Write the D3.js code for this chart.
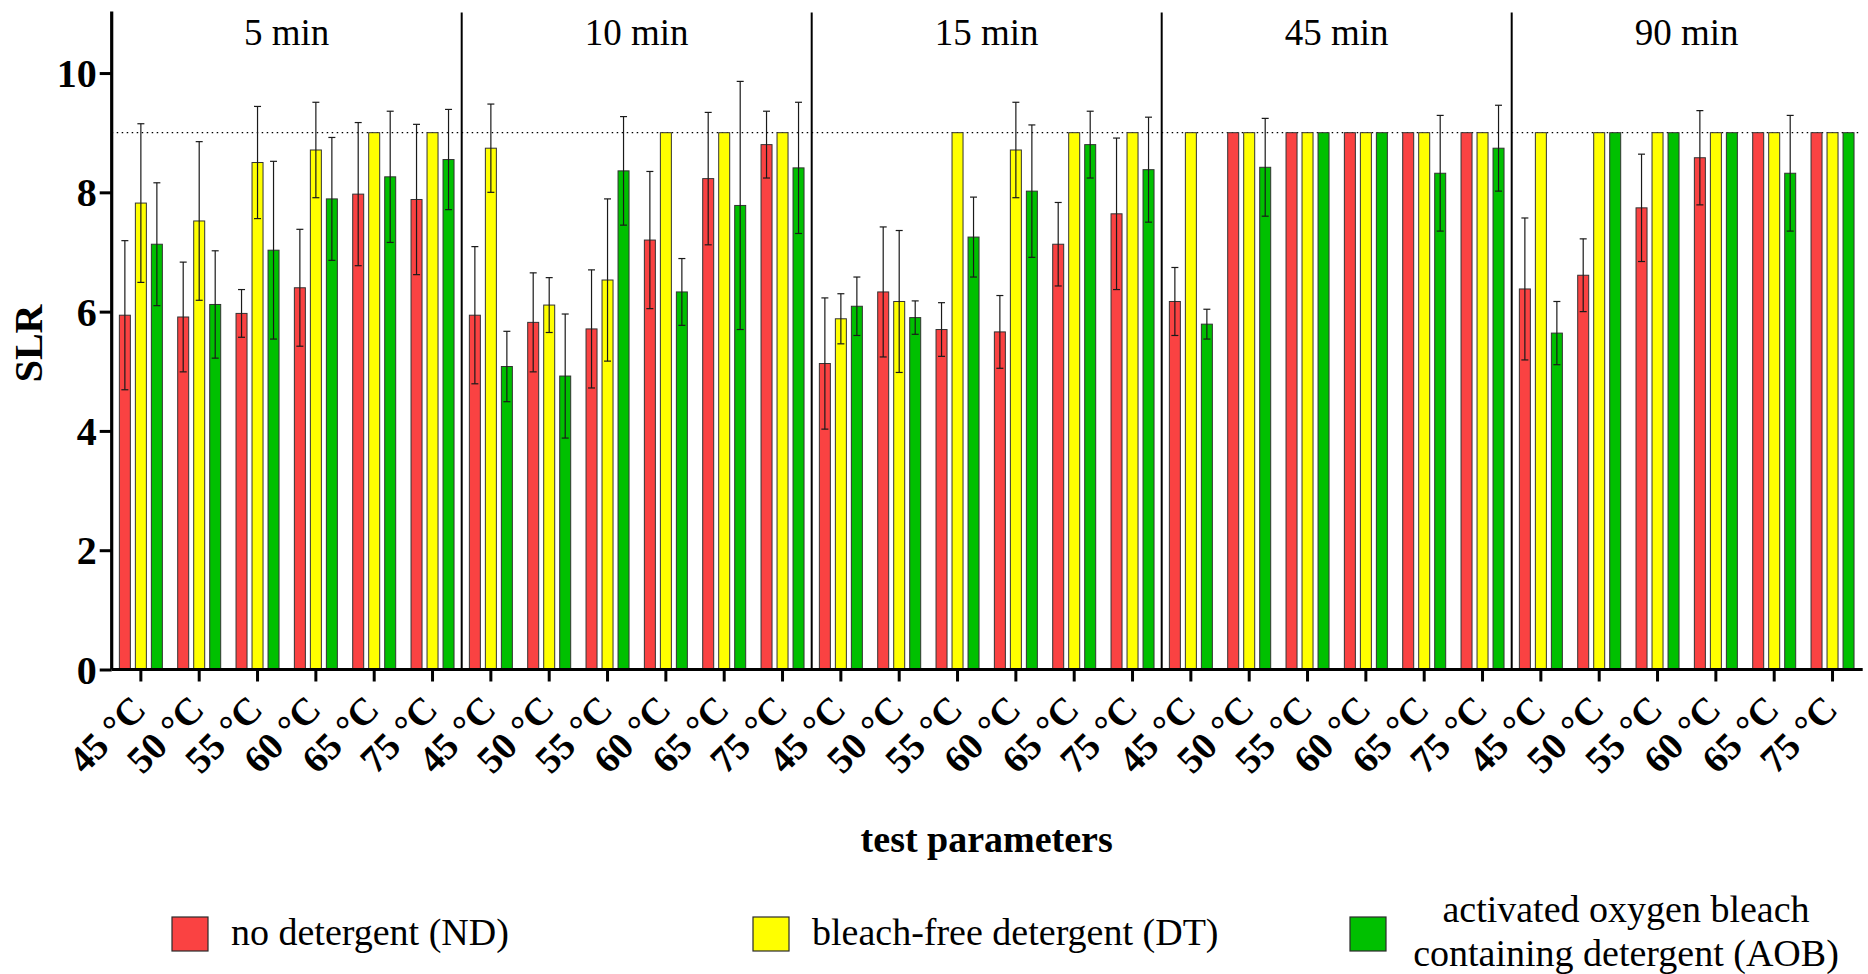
<!DOCTYPE html>
<html>
<head>
<meta charset="utf-8">
<script src="https://cdn.jsdelivr.net/npm/d3@7/dist/d3.min.js"></script>
<style>
  html, body { margin: 0; padding: 0; background: #fff; }
  svg { display: block; }
  text { font-family: "Liberation Serif", "Times New Roman", serif; fill: #000; }
</style>
</head>
<body>
<svg id="chart" width="1868" height="974"></svg>
<script>
// ---------------- DATA ----------------
const groups = ["5 min", "10 min", "15 min", "45 min", "90 min"];
const temps = ["45 °C", "50 °C", "55 °C", "60 °C", "65 °C", "75 °C"];
const seriesNames = ["no detergent (ND)", "bleach-free detergent (DT)", "activated oxygen bleach containing detergent (AOB)"];
const seriesColors = ["#FA4242", "#FFFF00", "#00C000"];
const yTicks = [0, 2, 4, 6, 8, 10];
const limitLine = 9;

// values ordered: group by group, 6 temperatures each
const ndValues = [
  5.94, 5.91, 5.97, 6.40, 7.97, 7.88,
  5.94, 5.82, 5.71, 7.20, 8.23, 8.80,
  5.13, 6.33, 5.70, 5.66, 7.13, 7.64,
  6.17, 9, 9, 9, 9, 9,
  6.38, 6.61, 7.74, 8.58, 9, 9
];
const ndErrors = [
  1.25, 0.92, 0.40, 0.98, 1.20, 1.26,
  1.15, 0.83, 0.99, 1.15, 1.11, 0.56,
  1.10, 1.09, 0.45, 0.61, 0.70, 1.27,
  0.57, 0, 0, 0, 0, 0,
  1.19, 0.61, 0.90, 0.79, 0, 0
];
const dtValues = [
  7.82, 7.52, 8.50, 8.71, 9, 9,
  8.74, 6.11, 6.53, 9, 9, 9,
  5.88, 6.17, 9, 8.71, 9, 9,
  9, 9, 9, 9, 9, 9,
  9, 9, 9, 9, 9, 9
];
const dtErrors = [
  1.33, 1.33, 0.94, 0.80, 0, 0,
  0.74, 0.46, 1.36, 0, 0, 0,
  0.42, 1.19, 0, 0.80, 0, 0,
  0, 0, 0, 0, 0, 0,
  0, 0, 0, 0, 0, 0
];
const aobValues = [
  7.13, 6.12, 7.03, 7.89, 8.26, 8.55,
  5.08, 4.92, 8.36, 6.33, 7.78, 8.41,
  6.09, 5.90, 7.25, 8.02, 8.80, 8.38,
  5.79, 8.42, 9, 9, 8.32, 8.74,
  5.64, 9, 9, 9, 8.32, 9
];
const aobErrors = [
  1.03, 0.90, 1.49, 1.03, 1.10, 0.84,
  0.59, 1.04, 0.91, 0.56, 2.08, 1.10,
  0.49, 0.28, 0.67, 1.11, 0.56, 0.88,
  0.25, 0.82, 0, 0, 0.97, 0.72,
  0.53, 0, 0, 0, 0.97, 0
];

// ---------------- BUILD ----------------
(function () {
const allValues = [ndValues, dtValues, aobValues];
const allErrors = [ndErrors, dtErrors, aobErrors];
const categories = [];
groups.forEach((g, gi) => temps.forEach((t, ti) => categories.push({ key: g + "|" + t, group: g, temp: t, idx: gi * 6 + ti })));

const svg = d3.select("#chart");
const pLeft = 111.7, pRight = 1861.7, pTop = 13.4, pBottom = 669.5;
const font = '"Liberation Serif", "Times New Roman", serif';

const x0 = d3.scaleBand().domain(categories.map(d => d.key)).range([pLeft, pRight]).padding(0);
const x1 = d3.scaleBand().domain([0, 1, 2]).range([-24, 24]).paddingInner(0.3125).paddingOuter(0.15625);
const y = d3.scaleLinear().domain([0, 11]).range([pBottom, pTop]);
const xg = d3.scaleBand().domain(groups).range([pLeft, pRight]).padding(0);

// limit dotted line
svg.append("line")
  .attr("x1", pLeft).attr("x2", pRight)
  .attr("y1", y(limitLine)).attr("y2", y(limitLine))
  .attr("stroke", "#000").attr("stroke-width", 1.2)
  .attr("stroke-dasharray", "1.5,3.5");

// bars
const barData = [];
categories.forEach(c => {
  for (let s = 0; s < 3; s++) {
    barData.push({ cat: c, s: s, v: allValues[s][c.idx], e: allErrors[s][c.idx] });
  }
});
const cx = d => x0(d.cat.key) + x0.bandwidth() / 2 + x1(d.s);

svg.append("g").selectAll("rect").data(barData).join("rect")
  .attr("x", d => cx(d))
  .attr("y", d => y(d.v))
  .attr("width", x1.bandwidth())
  .attr("height", d => y(0) - y(d.v))
  .attr("fill", d => seriesColors[d.s])
  .attr("stroke", "#333")
  .attr("stroke-width", 1);

// error bars
const eb = svg.append("g").attr("stroke", "#1a1a1a").attr("stroke-width", 1.2).attr("fill", "none");
barData.filter(d => d.e > 0).forEach(d => {
  const mx = cx(d) + x1.bandwidth() / 2;
  eb.append("line").attr("x1", mx).attr("x2", mx).attr("y1", y(d.v + d.e)).attr("y2", y(d.v - d.e));
  eb.append("line").attr("x1", mx - 3.5).attr("x2", mx + 3.5).attr("y1", y(d.v + d.e)).attr("y2", y(d.v + d.e));
  eb.append("line").attr("x1", mx - 3.5).attr("x2", mx + 3.5).attr("y1", y(d.v - d.e)).attr("y2", y(d.v - d.e));
});

// group separators
svg.append("g").selectAll("line").data(groups.slice(1)).join("line")
  .attr("x1", d => xg(d)).attr("x2", d => xg(d))
  .attr("y1", pTop - 1).attr("y2", pBottom)
  .attr("stroke", "#000").attr("stroke-width", 2);

// group labels
svg.append("g").selectAll("text").data(groups).join("text")
  .attr("x", d => xg(d) + xg.bandwidth() / 2)
  .attr("y", 45)
  .attr("text-anchor", "middle")
  .style("font-size", "37px")
  .text(d => d);

// y axis
const yAxis = svg.append("g").attr("transform", `translate(${pLeft},0)`)
  .call(d3.axisLeft(y).tickValues(yTicks).tickSize(12).tickPadding(3).tickFormat(d3.format("d")));
yAxis.select(".domain").attr("stroke-width", 3.2).attr("d", `M0,${pTop - 2}V${pBottom}`);
yAxis.selectAll(".tick line").attr("stroke-width", 3);
yAxis.selectAll(".tick text").style("font-family", font).style("font-size", "40px").style("font-weight", "bold").attr("dy", "0.34em");

// x axis
const xAxis = svg.append("g").attr("transform", `translate(0,${pBottom})`)
  .call(d3.axisBottom(x0).tickSize(12).tickFormat(""));
xAxis.select(".domain").attr("stroke-width", 3.2).attr("d", `M${pLeft},0H${pRight + 1}`);
xAxis.selectAll(".tick line").attr("stroke-width", 3);

// x tick labels (rotated)
svg.append("g").selectAll("text").data(categories).join("text")
  .attr("transform", d => `translate(${x0(d.key) + x0.bandwidth() / 2 + 7},${pBottom + 42}) rotate(-45)`)
  .attr("text-anchor", "end")
  .style("font-size", "38px")
  .style("font-weight", "bold")
  .text(d => d.temp);

// axis titles
svg.append("text")
  .attr("transform", `translate(42,${(pTop + pBottom) / 2 + 2}) rotate(-90)`)
  .attr("text-anchor", "middle")
  .style("font-size", "40px").style("font-weight", "bold")
  .text("SLR");

svg.append("text")
  .attr("x", (pLeft + pRight) / 2).attr("y", 852)
  .attr("text-anchor", "middle")
  .style("font-size", "38px").style("font-weight", "bold")
  .text("test parameters");

// legend
const legendItems = [
  { s: 0, sx: 172, lines: [seriesNames[0]], tx: 231, anchor: "start" },
  { s: 1, sx: 753, lines: [seriesNames[1]], tx: 812, anchor: "start" },
  { s: 2, sx: 1350, lines: ["activated oxygen bleach", "containing detergent (AOB)"], tx: 1626, anchor: "middle" }
];
const lg = svg.append("g");
legendItems.forEach(it => {
  lg.append("rect").attr("x", it.sx).attr("y", 917).attr("width", 36).attr("height", 34)
    .attr("fill", seriesColors[it.s]).attr("stroke", "#2a2a2a").attr("stroke-width", 1.2);
  const t = lg.append("text").attr("text-anchor", it.anchor).style("font-size", "38px");
  if (it.lines.length === 1) {
    t.attr("x", it.tx).attr("y", 945).text(it.lines[0]);
  } else {
    t.append("tspan").attr("x", it.tx).attr("y", 922).text(it.lines[0]);
    t.append("tspan").attr("x", it.tx).attr("y", 966).text(it.lines[1]);
  }
});
})();
</script>
</body>
</html>
